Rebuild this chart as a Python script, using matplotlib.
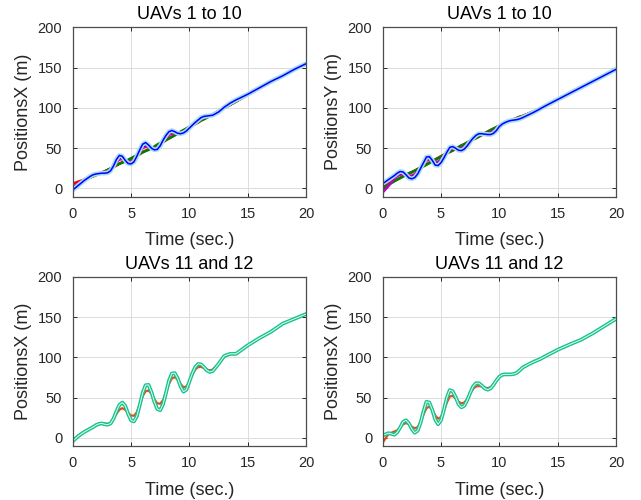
import matplotlib
matplotlib.use('Agg')
import matplotlib.pyplot as plt

plt.rcParams['font.family'] = ['Liberation Sans', 'DejaVu Sans']

# time samples (sec.)
t = [0, 0.5,
     1.0, 1.25, 1.5, 1.75, 2.0, 2.25, 2.5, 2.75, 3.0,
     3.25, 3.5, 3.75, 4.0, 4.25, 4.5, 4.75, 5.0, 5.25, 5.5, 5.75, 6.0,
     6.25, 6.5, 6.75, 7.0, 7.25, 7.5, 7.75, 8.0, 8.25, 8.5, 8.75, 9.0,
     9.25, 9.5, 9.75, 10.0, 10.25, 10.5, 10.75, 11.0, 11.25, 11.5, 11.75, 12.0,
     12.5, 13.0, 13.5, 14.0,
     15, 16, 17, 18, 19, 20]

# UAVs 1 to 10, X positions (m)
x_red = [6, 8.5,
         11, 12.5, 14, 15.5, 17, 18.5, 20, 21.5, 23,
         24.5, 26.5, 28.5, 31, 32.5, 34, 35, 36.5, 38, 40, 42.5, 45,
         47, 48.5, 50, 51.5, 53, 55, 57.5, 60, 62.5, 64.5, 66.5, 68,
         70, 72, 74, 76, 78, 80, 82, 84.5, 86.5, 88.5, 90.5, 92,
         96, 100, 104, 108,
         116.5, 124.5, 132.5, 140, 147.5, 155]
x_green = [1, 6,
           10, 12, 13.5, 15, 16.5, 18, 19.5, 21, 23,
           25, 27, 29, 30.5, 32, 33.5, 35.5, 37.5, 39.5, 41.5, 43.5, 45,
           46.5, 48, 50, 52, 54.5, 56.5, 58.5, 60.5, 62, 64, 66, 68.5,
           70.5, 72.5, 74.5, 76.5, 78.5, 80.5, 82.5, 84.5, 86, 88, 90, 92,
           96, 100, 104, 108,
           116.5, 124.5, 132.5, 140, 147.5, 155]
x_magenta = [2, 6.3,
             10.5, 12.5, 14.5, 16.3, 17.5, 18.5, 19.5, 20.3, 21.3,
             23.3, 27.3, 32.3, 36, 36.3, 34.5, 33, 33.5, 35.5, 40, 45.3, 50,
             52, 51.3, 50, 49.8, 50.8, 54, 58.8, 63, 66.5, 68.3, 68.5, 68.3,
             69, 70.5, 72.8, 75.5, 78.3, 81, 83.5, 86.3, 88, 89.3, 90.5, 91.5,
             95.5, 100.5, 105, 109,
             116.5, 124.5, 132.5, 140, 147.5, 155]
x_black = [0.5, 5.5,
           10.3, 12.5, 14.7, 16.6, 17.7, 18.5, 19.3, 19.8, 20.6,
           22.8, 27.6, 33.8, 38, 37.8, 34.7, 32.2, 32.3, 34.5, 40, 46.4, 52,
           54, 52.4, 50, 49.1, 49.9, 53.6, 59.3, 64.2, 68.1, 69.8, 69.3, 68.4,
           68.6, 69.9, 72.3, 75.3, 78.4, 81.4, 84.1, 87, 88.6, 89.6, 90.5, 91.3,
           95.3, 100.7, 105.4, 109.4,
           116.8, 124.8, 132.8, 140, 147.8, 155]
x_blue = [-2, 4,
          10, 12.5, 15, 17, 18, 18.5, 19, 19, 19.5,
          22, 28, 36, 41, 40, 35, 31, 30.5, 33, 40, 48, 55,
          57, 54, 50, 48, 48.5, 53, 60, 66, 70.5, 72, 70.5, 68.5,
          68, 69, 71.5, 75, 78.5, 82, 85, 88, 89.5, 90, 90.5, 91,
          95, 101, 106, 110,
          117, 125, 133, 140, 148, 155]

# UAVs 1 to 10, Y positions (m)
y_red = [4, 6.5,
         9.5, 11.5, 13, 15, 16.5, 18.5, 20, 22, 24,
         26, 28, 30, 32, 34, 36, 38, 40, 42, 44, 45.5, 47,
         49, 51, 53, 55, 57, 59, 61, 63, 64.5, 66.5, 68.5, 70.5,
         72.5, 74, 76, 78, 79.5, 81, 83, 84.5, 86, 87.5, 89, 90,
         93, 96, 99.5, 103,
         110.5, 118, 125.5, 133, 140.5, 148]
y_green = [0, 4.5,
           9, 11, 13, 15, 17, 19, 20.5, 22, 24,
           25.5, 27.5, 29.5, 31.5, 33.5, 35.5, 37.5, 39.5, 41.5, 43.5, 45.5, 47.5,
           49.5, 51.5, 53.5, 55, 57, 59, 61, 62.5, 64.5, 66.5, 68.5, 70.5,
           72.5, 74.5, 76, 78, 80, 81.5, 83, 84.5, 86, 87.5, 89, 90,
           93, 96, 99.5, 103,
           110.5, 118, 125.5, 133, 140.5, 148]
y_magenta = [-5, 3,
             12.8, 15.3, 17, 17.8, 16.8, 15.8, 16, 17.8, 21,
             25.5, 30, 34.5, 35.8, 34.5, 32.5, 33.3, 36, 40, 44.5, 48.3, 49.5,
             49.5, 49.3, 50, 52, 55, 58.5, 61.8, 64.5, 66.3, 67.3, 68, 68.8,
             69.8, 71.3, 74, 77.5, 79.8, 81.5, 83.3, 84.5, 85.5, 86.5, 87.8, 89,
             92.3, 95.5, 99.3, 103,
             110.5, 118, 125.5, 133, 140.5, 148]
y_black = [3, 9.7,
           14, 16.8, 18.6, 18.9, 16.9, 14.7, 14.4, 16, 19.8,
           25.3, 30.8, 36.3, 37.3, 34.7, 31.1, 31.4, 34.4, 39.2, 44.7, 49.4, 50.5,
           49.7, 48.6, 48.8, 50.8, 54.2, 58.3, 62, 65.1, 67, 67.6, 67.8, 68,
           68.7, 70.2, 73.2, 77.3, 79.9, 81.7, 83.4, 84.5, 85.3, 86.1, 87.3, 88.6,
           92, 95.3, 99.2, 103,
           110.5, 118, 125.5, 133, 140.5, 148]
y_blue = [6, 11,
          16, 19, 21, 20.5, 17, 13, 12, 13.5, 18,
          25, 32, 39, 39.5, 35, 29, 28.5, 32, 38, 45, 51, 52,
          50, 47.5, 47, 49, 53, 58, 62.5, 66, 68, 68, 67.5, 67,
          67, 68.5, 72, 77, 80, 82, 83.5, 84.5, 85, 85.5, 86.5, 88,
          91.5, 95, 99, 103,
          110.5, 118, 125.5, 133, 140.5, 148]

# UAVs 11 and 12, X positions (m)
x11 = [-3, 3,
       8, 10, 12, 14, 15.5, 17, 18, 18, 17.5,
       19, 24, 30, 35, 37, 35, 31, 28, 27.5, 32, 42, 52,
       58, 59, 55, 48, 43, 42.5, 47, 57, 67, 74, 75.5, 72.5,
       67, 63, 64, 70, 78.5, 85, 88, 88.3, 87, 85, 84, 85,
       92, 101, 104, 104.5,
       115, 124, 132, 142, 148, 154]
x12 = [-4, 2.5,
       7.5, 9.5, 11.5, 13.5, 16, 17.5, 18, 17, 16.5,
       18, 24, 33, 41, 44, 40, 30, 22, 20.5, 27, 41, 56,
       65.5, 66, 57, 45, 36, 34.5, 42, 56, 71, 80, 80.5, 74,
       64, 57.5, 60, 70, 80, 88, 92, 91.5, 88, 84, 82, 83,
       92, 102, 104.5, 104.5,
       115, 124, 132, 142, 148, 154]

# UAVs 11 and 12, second panel (m)
x11b = [-6, 5,
        8, 9.5, 13, 17, 18.5, 17, 14, 12, 13.5,
        20, 29, 37, 39, 35, 28, 24, 26, 34, 44, 51.5, 52.5,
        49, 45, 43, 44, 48.5, 55, 61, 64, 64.5, 64, 62.5, 62,
        63, 66.5, 71.5, 76, 78.5, 79, 79, 79, 79.5, 81, 84, 87.5,
        91.5, 95, 98, 102,
        109.5, 116, 122, 130, 139, 148]
x12b = [3, 6,
        4, 7, 13, 20, 22, 18, 11, 6.5, 9,
        19, 33, 45, 44, 35, 23, 17, 22, 35, 50, 59.5, 58,
        51, 42, 38, 40, 47, 56, 64, 68, 68, 65, 61.5, 60,
        61.5, 66, 71.5, 76, 78.5, 79, 79, 79, 79.5, 81, 84, 87.5,
        91.5, 95, 98, 102,
        109.5, 116, 122, 130, 139, 148]

c_orange = '#D95319'
c_green = '#17C38E'
c_light = '#A8DCF4'

fig = plt.figure(figsize=(6.41, 5.0), dpi=100)
ax1 = fig.add_axes([0.1134, 0.607, 0.364, 0.338])
ax2 = fig.add_axes([0.597, 0.607, 0.364, 0.338])
ax3 = fig.add_axes([0.1134, 0.108, 0.364, 0.338])
ax4 = fig.add_axes([0.597, 0.108, 0.364, 0.338])


def style(ax, title, ylab):
    ax.set_xlim(0, 20)
    ax.set_ylim(-10, 200)
    ax.set_xticks([0, 5, 10, 15, 20])
    ax.set_yticks([0, 50, 100, 150, 200])
    ax.grid(True, color='#dcdcdc', linewidth=0.7)
    ax.set_axisbelow(True)
    ax.tick_params(direction='in', top=True, right=True, length=3,
                   width=0.7, labelsize=10.5, colors='#262626', pad=7.5)
    for s in ax.spines.values():
        s.set_color('#4d4d4d')
        s.set_linewidth(0.9)
    ax.set_title(title, fontsize=13, pad=6)
    ax.set_xlabel('Time (sec.)', fontsize=13, color='#262626', labelpad=8)
    ax.set_ylabel(ylab, fontsize=13, color='#262626', labelpad=4)


# UAVs 1 to 10
for ax, r, g, m, k, b in [(ax1, x_red, x_green, x_magenta, x_black, x_blue),
                          (ax2, y_red, y_green, y_magenta, y_black, y_blue)]:
    ax.plot(t, r, color='r', lw=1.9)
    ax.plot(t, g, color='g', lw=1.9)
    ax.plot(t, m, color='m', lw=1.8)
    ax.plot(t, k, color='k', lw=1.2)
    ax.plot(t, b, color=c_light, lw=3.4, solid_capstyle='round')
    ax.plot(t, b, color='b', lw=1.1)

# UAVs 11 and 12
for ax, o, g in [(ax3, x11, x12), (ax4, x11b, x12b)]:
    ax.plot(t, o, color=c_orange, lw=1.6)
    ax.plot(t, g, color=c_green, lw=2.7)
    ax.plot(t, g, color='#e8fbf4', lw=0.7)

style(ax1, 'UAVs 1 to 10', 'PositionsX (m)')
style(ax2, 'UAVs 1 to 10', 'PositionsY (m)')
style(ax3, 'UAVs 11 and 12', 'PositionsX (m)')
style(ax4, 'UAVs 11 and 12', 'PositionsX (m)')

fig.savefig('out.png', dpi=100)
